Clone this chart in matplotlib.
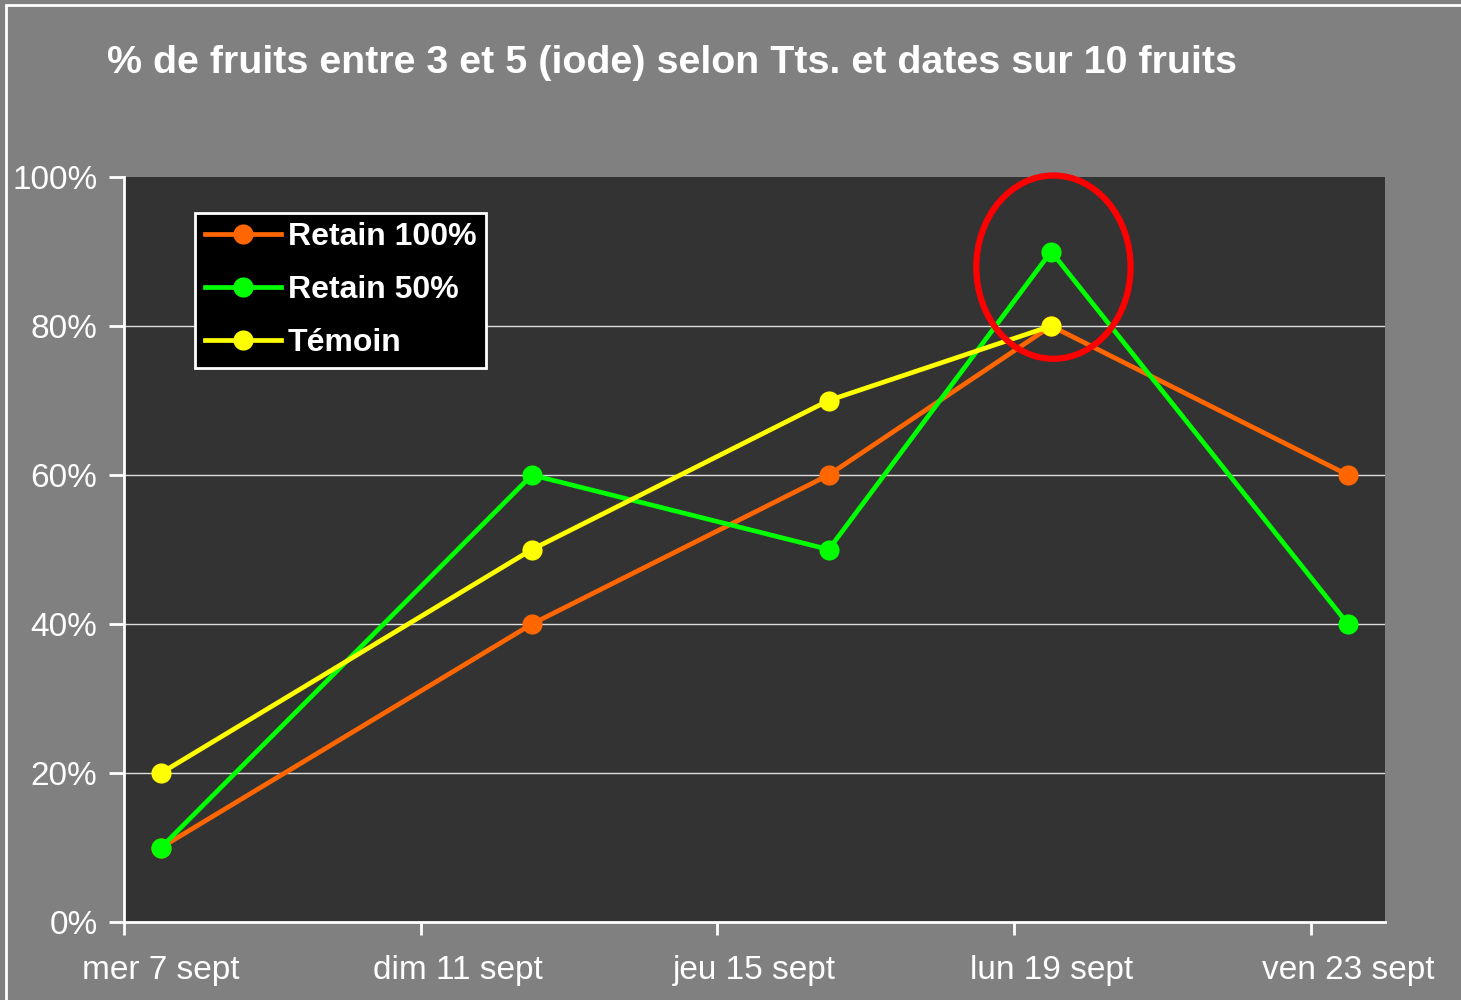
import numpy as np
import matplotlib.pyplot as plt
import matplotlib.dates as mdates
from matplotlib.patches import Ellipse, Rectangle

plt.rcParams['font.family'] = ['Liberation Sans', 'DejaVu Sans']

TITLE = "% de fruits entre 3 et 5 (iode) selon Tts. et dates sur 10 fruits"

dates = np.array(['2011-09-07', '2011-09-12', '2011-09-16', '2011-09-19', '2011-09-23'],
                 dtype='datetime64[D]')
retain_100 = [10, 40, 60, 80, 60]
retain_50 = [10, 60, 50, 90, 40]
temoin = [20, 50, 70, 80]

tick_dates = np.array(['2011-09-07', '2011-09-11', '2011-09-15', '2011-09-19', '2011-09-23'],
                      dtype='datetime64[D]')
tick_labels = ['mer 7 sept', 'dim 11 sept', 'jeu 15 sept', 'lun 19 sept', 'ven 23 sept']
y_ticks = [0, 20, 40, 60, 80, 100]

series = [
    ('Retain 100%', retain_100, '#FF6600'),
    ('Retain 50%', retain_50, '#00FF00'),
    ('Témoin', temoin, '#FFFF00'),
]

GREY = '#808080'
DARK = '#333333'

fig = plt.figure(figsize=(14.61, 10), dpi=100, facecolor=GREY)
fig.patches.append(Rectangle((0.004, -0.01), 1.1, 1.005, transform=fig.transFigure,
                             facecolor='none', edgecolor='white', linewidth=2))
ax = fig.add_axes([124 / 1461, 78 / 1000, 1261 / 1461, 745 / 1000], facecolor=DARK)

# Excel-style date axis: each point sits in the middle of its day
half_day = np.timedelta64(12, 'h')
for z, (name, vals, col) in enumerate(series):
    x = dates[:len(vals)].astype('datetime64[h]') + half_day
    ax.plot(x, vals, color=col, lw=3.4, marker='o', markersize=14.5,
            markeredgewidth=0, label=name, zorder=3 + z)

ax.set_ylim(0, 100)
ax.set_xlim(np.datetime64('2011-09-07'), np.datetime64('2011-09-24'))
ax.set_yticks(y_ticks)
ax.set_yticklabels([f'{v}%' for v in y_ticks])
for v in y_ticks[1:-1]:
    ax.axhline(v, color='#DDDDDD', lw=1, zorder=1)

ax.set_xticks(tick_dates)
ax.set_xticklabels([])
ax.set_xticks(tick_dates.astype('datetime64[h]') + half_day, minor=True)
ax.set_xticklabels(tick_labels, minor=True)
ax.tick_params(axis='x', which='major', direction='out', length=9, width=2, color='white')
ax.tick_params(axis='x', which='minor', length=0, pad=24, labelsize=24, labelcolor='white')
ax.tick_params(axis='y', direction='out', length=11, width=2, color='white',
               pad=8, labelsize=24, labelcolor='white')

for s in ['top', 'right']:
    ax.spines[s].set_visible(False)
for s in ['left', 'bottom']:
    ax.spines[s].set_color('white')
    ax.spines[s].set_linewidth(2)

# red highlight around the peak
peak = np.argmax(retain_50)
cx = mdates.date2num(dates[peak].astype('datetime64[h]') + half_day)
ell = Ellipse((cx + 0.03, 87.9), width=2.08, height=24.6, fill=False,
              edgecolor='#FF0000', lw=4.5, zorder=10, clip_on=False)
ax.add_patch(ell)

leg = ax.legend(loc='upper left', bbox_to_anchor=(0.0565, 0.952), frameon=True,
                fancybox=False, facecolor='black', edgecolor='white', framealpha=1,
                prop={'size': 23, 'weight': 'bold'}, labelspacing=0.72,
                handlelength=2.4, handletextpad=0.2, borderpad=0.3, borderaxespad=0)
leg.get_frame().set_linewidth(2)
for t in leg.get_texts():
    t.set_color('white')

fig.text(107 / 1461, 1 - 63 / 1000, TITLE, color='white', fontsize=28.4,
         fontweight='bold', ha='left', va='center')

fig.savefig('out.png', dpi=100, facecolor=GREY)
